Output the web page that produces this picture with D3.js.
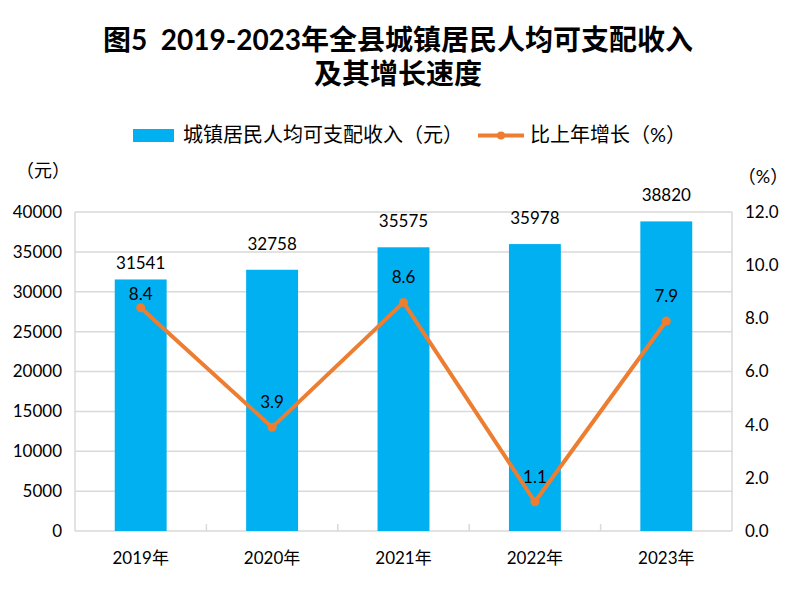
<!DOCTYPE html>
<html>
<head>
<meta charset="utf-8">
<script src="https://cdn.jsdelivr.net/npm/d3@7"></script>
<style>
  body { margin: 0; background: #fff; }
  text { font-family: Lato, "Noto Sans CJK SC", sans-serif; fill: #000; }
</style>
</head>
<body>
<svg id="chart" width="796" height="604"></svg>
<script>
const years = ["2019年", "2020年", "2021年", "2022年", "2023年"];
const income = [31541, 32758, 35575, 35978, 38820];
const growth = [8.4, 3.9, 8.6, 1.1, 7.9];
const leftTicks = [0, 5000, 10000, 15000, 20000, 25000, 30000, 35000, 40000];
const rightTicks = [0, 2, 4, 6, 8, 10, 12];

const margin = { top: 212, right: 64, bottom: 73, left: 75 };
const W = 796, H = 604;
const width = W - margin.left - margin.right;
const height = H - margin.top - margin.bottom;

const svg = d3.select("#chart");

// Title, two lines. Keep the double space after "图5".
const title = svg.append("text")
    .attr("text-anchor", "middle")
    .style("font-weight", "bold")
    .style("font-size", "28px")
    .style("white-space", "pre");
title.append("tspan").attr("x", W / 2).attr("y", 50).text("图5  2019-2023年全县城镇居民人均可支配收入");
title.append("tspan").attr("x", W / 2).attr("y", 84).text("及其增长速度");

const g = svg.append("g").attr("transform", `translate(${margin.left},${margin.top})`);

const x = d3.scaleBand().domain(years).range([0, width]).paddingInner(0.605).paddingOuter(0.3025);
const xBand = d3.scaleBand().domain(years).range([0, width]);
const y = d3.scaleLinear().domain([0, 40000]).range([height, 0]);
const y2 = d3.scaleLinear().domain([0, 12]).range([height, 0]);

// Gridlines.
g.selectAll(".grid")
    .data(leftTicks)
    .join("line")
    .attr("x1", 0).attr("x2", width)
    .attr("y1", d => y(d)).attr("y2", d => y(d))
    .attr("stroke", "#d9d9d9").attr("stroke-width", 1.5);

// Left and right frame lines.
[0, width].forEach(xx => {
    g.append("line")
        .attr("x1", xx).attr("x2", xx)
        .attr("y1", 0).attr("y2", height)
        .attr("stroke", "#d9d9d9").attr("stroke-width", 1.5);
});

// Category tick marks on the bottom axis.
g.selectAll(".xtick")
    .data(years.slice(1))
    .join("line")
    .attr("x1", d => xBand(d)).attr("x2", d => xBand(d))
    .attr("y1", height - 7).attr("y2", height)
    .attr("stroke", "#d9d9d9").attr("stroke-width", 1.5);

// Bars.
g.selectAll(".bar")
    .data(income)
    .join("rect")
    .attr("x", (d, i) => x(years[i]))
    .attr("y", d => y(d))
    .attr("width", x.bandwidth())
    .attr("height", d => height - y(d))
    .attr("fill", "#00b0f0");

// Bar value labels -- first one sits lower, as in the original.
g.selectAll(".barlabel")
    .data(income)
    .join("text")
    .attr("x", (d, i) => x(years[i]) + x.bandwidth() / 2)
    .attr("y", (d, i) => y(d) - (i === 0 ? 10 : 20))
    .attr("text-anchor", "middle")
    .style("font-size", "17px")
    .text(d => d);

// Growth line.
const cx = d => xBand(d) + xBand.bandwidth() / 2;
const line = d3.line()
    .x((d, i) => cx(years[i]))
    .y(d => y2(d));
g.append("path")
    .datum(growth)
    .attr("d", line)
    .attr("fill", "none")
    .attr("stroke", "#ed7d31")
    .attr("stroke-width", 4)
    .attr("stroke-linejoin", "round");
g.selectAll(".dot")
    .data(growth)
    .join("circle")
    .attr("cx", (d, i) => cx(years[i]))
    .attr("cy", d => y2(d))
    .attr("r", 4.5)
    .attr("fill", "#ed7d31");

g.selectAll(".linelabel")
    .data(growth)
    .join("text")
    .attr("x", (d, i) => cx(years[i]))
    .attr("y", (d, i) => y2(d) - (i === 0 ? 8 : 19))
    .attr("text-anchor", "middle")
    .style("font-size", "17px")
    .text(d => d.toFixed(1));

// Left axis labels.
g.selectAll(".ly")
    .data(leftTicks)
    .join("text")
    .attr("x", -13)
    .attr("y", d => y(d))
    .attr("dy", "0.35em")
    .attr("text-anchor", "end")
    .style("font-size", "17px")
    .text(d => d);

// Right axis labels.
g.selectAll(".ry")
    .data(rightTicks)
    .join("text")
    .attr("x", width + 13)
    .attr("y", d => y2(d))
    .attr("dy", "0.35em")
    .attr("text-anchor", "start")
    .style("font-size", "17px")
    .text(d => d.toFixed(1));

// Category labels.
g.selectAll(".xl")
    .data(years)
    .join("text")
    .attr("x", d => cx(d))
    .attr("y", height + 33)
    .attr("text-anchor", "middle")
    .style("font-size", "17px")
    .text(d => d);

// Unit labels.
svg.append("text").attr("x", 43).attr("y", 177).attr("text-anchor", "middle")
    .style("font-size", "18px").text("（元）");
svg.append("text").attr("x", 763).attr("y", 183).attr("text-anchor", "middle")
    .style("font-size", "18px").text("（%）");

// Legend.
const legend = svg.append("g");
legend.append("rect").attr("x", 133).attr("y", 129).attr("width", 41).attr("height", 13).attr("fill", "#00b0f0");
legend.append("text").attr("x", 183).attr("y", 142).style("font-size", "20px").text("城镇居民人均可支配收入（元）");
legend.append("line").attr("x1", 478).attr("x2", 524).attr("y1", 135.5).attr("y2", 135.5)
    .attr("stroke", "#ed7d31").attr("stroke-width", 4);
legend.append("circle").attr("cx", 501).attr("cy", 135.5).attr("r", 4).attr("fill", "#ed7d31");
legend.append("text").attr("x", 530).attr("y", 142).style("font-size", "20px").text("比上年增长（%）");
</script>
</body>
</html>
